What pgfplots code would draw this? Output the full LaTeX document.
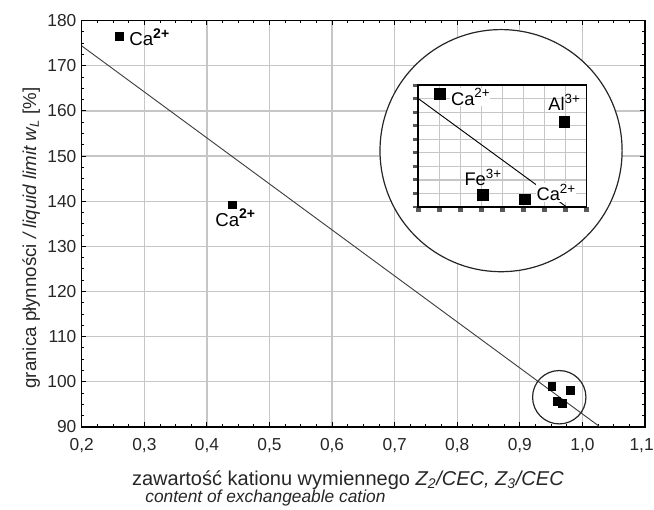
\documentclass[border=0pt]{standalone}
\usepackage{fontspec}
\setmainfont{Liberation Sans}
\usepackage{pgfplots}
\pgfplotsset{compat=1.18}

\pgfplotstableread{
x y
0.260 176.6
0.440 139.2
0.951 99.0
0.981 98.1
0.959 95.7
0.968 95.2
}\maindata

\pgfplotstableread{
x y
1.04 8.39
6.93 6.29
3.06 0.885
5.07 0.57
}\insetdata

\newcommand{\ionsup}[2]{\raisebox{0.42em}{\fontsize{#1}{#1}\selectfont #2}}

\begin{document}
\begin{tikzpicture}
\useasboundingbox (-61.3pt,-61.7pt) rectangle (429pt,320pt);
\begin{axis}[
  at={(0pt,0pt)}, anchor=south west,
  scale only axis, width=422.25pt, height=304.5pt,
  xmin=0.2, xmax=1.1, ymin=90, ymax=180,
  xtick={0.2,0.3,0.4,0.5,0.6,0.7,0.8,0.9,1.0,1.1},
  xticklabels={{0,2},{0,3},{0,4},{0,5},{0,6},{0,7},{0,8},{0,9},{1,0},{1,1\kern5pt}},
  ytick={90,100,110,120,130,140,150,160,170,180},
  minor x tick num=3, minor y tick num=3,
  tick align=inside, major tick length=3.5pt, minor tick length=2pt,
  xmajorgrids, ymajorgrids,
  grid style={gray!45, line width=0.9pt},
  axis line style={line width=1.1pt},
  tick style={black, line width=0.7pt},
  x tick label style={yshift=-5pt},
  y tick label style={xshift=-0.5pt},
  /pgf/number format/assume math mode=true,
  tick label style={font=\fontsize{13}{15}\selectfont, text=black!85},
  clip=false,
]
\addplot[gray!50!black, line width=0.7pt] coordinates {(0.2,174.4) (1.028,90)};
\addplot[only marks, mark=square*, mark size=2.9pt, black] table[x=x,y=y] {\maindata};
\draw[black!85, line width=0.9pt] (axis cs:0.963,96.56) circle[radius=20pt];
\draw[black!85, line width=0.9pt, fill=white] (axis cs:0.870,151.2) circle[radius=90.75pt];
\node[anchor=base west, inner sep=0pt, font=\fontsize{14}{16}\selectfont] at (axis cs:0.2756,174.4) {Ca\ionsup{10.5}{\bfseries 2+}};
\node[anchor=base west, inner sep=0pt, font=\fontsize{14}{16}\selectfont] at (axis cs:0.413,134.5) {Ca\ionsup{10.5}{\bfseries 2+}};
\end{axis}
\node[rotate=90, anchor=center, inner sep=0pt, text=black!85] at (-38pt,141.5pt) {\fontsize{14}{16}\selectfont granica płynności \textit{/ liquid limit w\textsubscript{L}} [\%]};
\node[anchor=base west, inner sep=0pt, text=black!85] at (37.5pt,-44pt) {\fontsize{15}{17}\selectfont zawartość kationu wymiennego \textit{Z\textsubscript{2}/CEC, Z\textsubscript{3}/CEC}};
\node[anchor=base west, inner sep=0pt, text=black!85] at (47.5pt,-57pt) {\fontsize{13}{15}\selectfont\itshape content of exchangeable cation};
\begin{axis}[
  at={(252.2pt,164.8pt)}, anchor=south west,
  scale only axis, width=126.3pt, height=91.3pt,
  xmin=0, xmax=8, ymin=0, ymax=9,
  xtick={0,1,...,8}, ytick={0,1,...,9},
  xticklabels={}, yticklabels={},
  xtick pos=bottom, ytick pos=left,
  tick align=outside, major tick length=4pt,
  xtick style={gray!70!black, line width=4pt},
  ytick style={gray!70!black, line width=2.2pt},
  grid=major,
  grid style={gray!45, line width=0.9pt},
  axis line style={line width=1.1pt},
  axis background/.style={fill=white},
  clip=false,
]
\addplot[black, line width=0.7pt] coordinates {(0,8.02) (7.05,0)};
\addplot[only marks, mark=square*, mark size=4pt, black] table[x=x,y=y] {\insetdata};
\node[anchor=base west, font=\fontsize{13.7}{15}\selectfont, fill=white, inner sep=0.5pt] at (axis cs:1.52,7.52) {Ca\ionsup{10}{2+}};
\node[anchor=base west, inner sep=0pt, font=\fontsize{13.7}{15}\selectfont] at (axis cs:6.17,7.1) {Al\ionsup{10}{3+}};
\node[anchor=base west, inner sep=0pt, font=\fontsize{13.7}{15}\selectfont] at (axis cs:2.19,1.57) {Fe\ionsup{10}{3+}};
\node[anchor=base west, font=\fontsize{13.7}{15}\selectfont, fill=white, inner sep=0.5pt] at (axis cs:5.58,0.46) {Ca\ionsup{10}{2+}};
\end{axis}
\end{tikzpicture}
\end{document}
